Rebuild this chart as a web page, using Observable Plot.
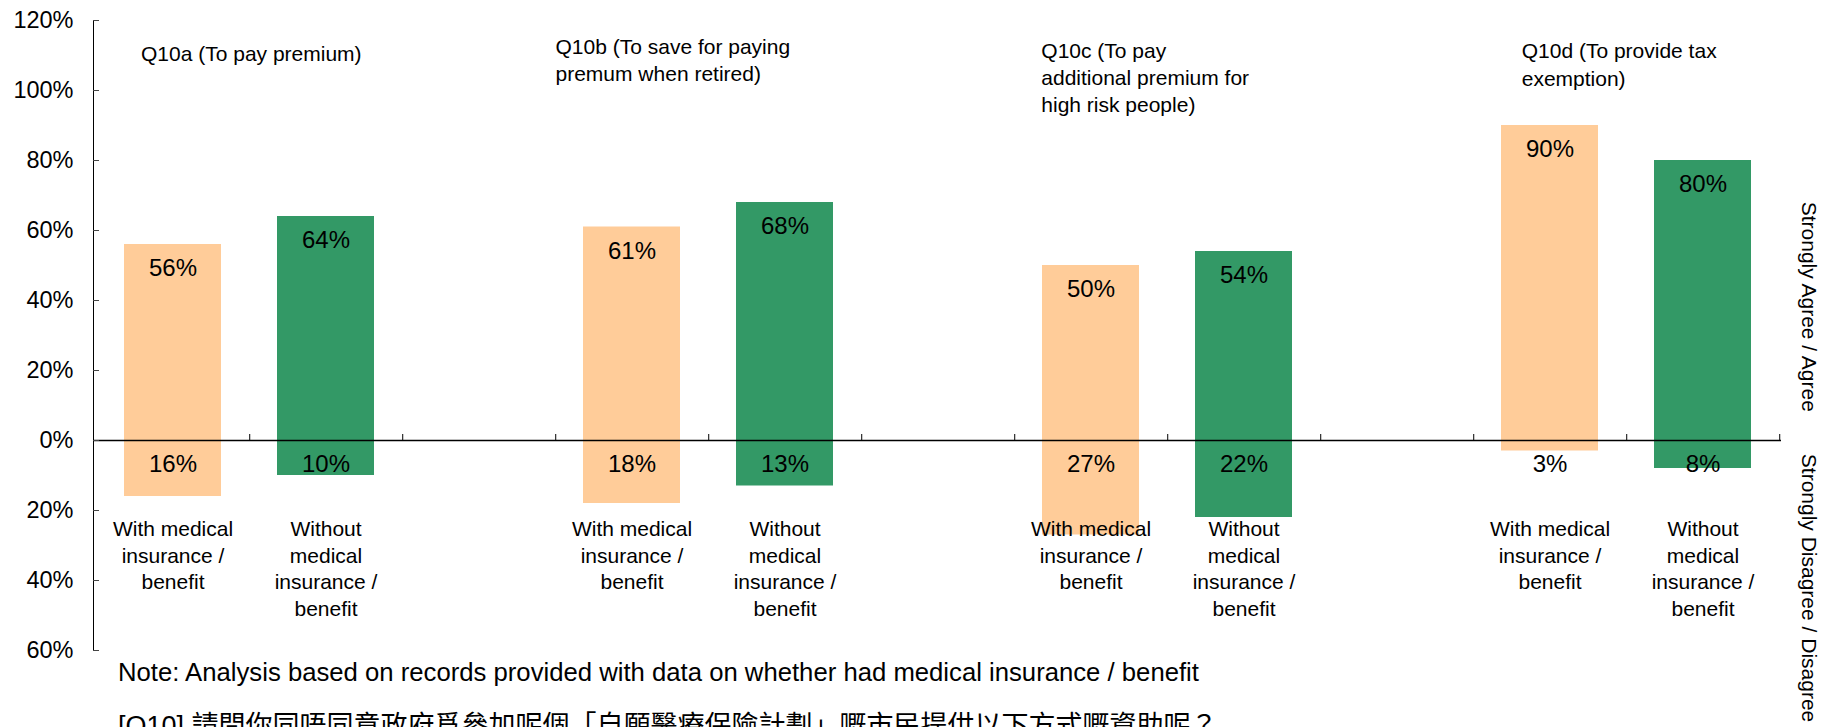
<!DOCTYPE html>
<html>
<head>
<meta charset="utf-8">
<script src="https://cdn.jsdelivr.net/npm/d3@7"></script>
<script src="https://cdn.jsdelivr.net/npm/@observablehq/plot@0.6"></script>
<style>
  html, body { margin: 0; padding: 0; background: #fff; overflow: hidden; }
  #wrap { position: relative; width: 1831px; height: 727px; }
  .note { position: absolute; left: 118px; white-space: nowrap; color: #000; line-height: 1;
          font-family: "Liberation Sans", Arial, "Noto Sans CJK TC", sans-serif; }
</style>
</head>
<body>
<div id="wrap"></div>
<script>
// ---------- data ----------
const questions = ["Q10a", "Q10b", "Q10c", "Q10d"];
const questionTitles = [
  "Q10a (To pay premium)",
  "Q10b (To save for paying\npremum when retired)",
  "Q10c (To pay\nadditional premium for\nhigh risk people)",
  "Q10d (To provide tax\nexemption)"
];
const groups = ["With medical insurance / benefit", "Without medical insurance / benefit"];
const groupTickLabels = ["With medical\ninsurance /\nbenefit", "Without\nmedical\ninsurance /\nbenefit"];
const agreeWith = [56, 61, 50, 90];
const agreeWithout = [64, 68, 54, 80];
const disagreeWith = [16, 18, 27, 3];
const disagreeWithout = [10, 13, 22, 8];
const yTicks = [-60, -40, -20, 0, 20, 40, 60, 80, 100, 120];
const sideLabels = ["Strongly Agree / Agree", "Strongly Disagree / Disagree"];
const noteText = "Note: Analysis based on records provided with data on whether had medical insurance / benefit";
const questionText = "[Q10] 請問你同唔同意政府爲參加呢個「自願醫療保險計劃」嘅市民提供以下方式嘅資助呢？";
const colors = ["#FFCC99", "#339966"];

// ---------- layout ----------
const W = 1831, H = 727, mL = 93, mR = 50, mT = 20, mB = 77;
const step = (W - mL - mR) / 11;
const titleDx = [-32, -76.5, -49.7, -28.3];
const titleDy = [21.7, 14.3, 18.3, 18.7];

// ---------- build table ----------
const categories = [];
questions.forEach((q, qi) => {
  categories.push(q + "|with", q + "|without");
  if (qi < questions.length - 1) categories.push(q + "|gap");
});
const rows = [];
questions.forEach((q, qi) => {
  rows.push({cat: q + "|with", group: groups[0], agree: agreeWith[qi], disagree: disagreeWith[qi]});
  rows.push({cat: q + "|without", group: groups[1], agree: agreeWithout[qi], disagree: disagreeWithout[qi]});
});
const tickLabel = c => c.endsWith("|with") ? groupTickLabels[0] : c.endsWith("|without") ? groupTickLabels[1] : "";

const chart = Plot.plot({
  width: W, height: H,
  marginLeft: mL, marginRight: mR, marginTop: mT, marginBottom: mB,
  style: {fontFamily: "'Liberation Sans', Arial, sans-serif", fontSize: "21px", color: "#000", background: "#fff"},
  x: {type: "band", domain: categories, padding: 0},
  y: {domain: [-60, 120]},
  color: {domain: groups, range: colors},
  marks: [
    Plot.barY(rows, {x: "cat", y1: 0, y2: "agree", fill: "group", insetLeft: 28, insetRight: 28}),
    Plot.barY(rows, {x: "cat", y1: 0, y2: d => -d.disagree, fill: "group", insetLeft: 28, insetRight: 28}),
    Plot.frame({anchor: "left", stroke: "#000"}),
    Plot.ruleY([0], {stroke: "#000", strokeWidth: 1.3}),
    Plot.ruleX(categories, {x: d => d, y1: 0, y2: 0, insetBottom: 6, dx: step / 2, stroke: "#000"}),
    Plot.axisY({ticks: yTicks, tickFormat: d => Math.abs(d) + "%", tickSize: -6, tickPadding: 26, fontSize: 23.5, stroke: "#444", label: null}),
    Plot.axisX({anchor: "bottom", tickSize: 0, tickPadding: 0, dy: -133.5, tickFormat: tickLabel, fontSize: 21, lineHeight: 1.27, label: null}),
    Plot.text(rows, {x: "cat", y: "agree", text: d => d.agree + "%", dy: 24, fontSize: 24}),
    Plot.text(rows, {x: "cat", y: 0, text: d => d.disagree + "%", dy: 23.5, fontSize: 24}),
    ...questionTitles.map((t, i) => Plot.text([t], {
      x: () => questions[i] + "|with", frameAnchor: "top", textAnchor: "start", lineAnchor: "top",
      dx: titleDx[i], dy: titleDy[i], fontSize: 21, lineHeight: 1.29
    })),
    Plot.text([sideLabels[0]], {frameAnchor: "right", rotate: 90, dx: 27, dy: -28.7, textAnchor: "middle", fontSize: 21}),
    Plot.text([sideLabels[1]], {frameAnchor: "right", rotate: 90, dx: 27, dy: 118.3, textAnchor: "start", fontSize: 21})
  ]
});
const wrap = document.getElementById("wrap");
wrap.appendChild(chart);

const n1 = document.createElement("div");
n1.className = "note";
n1.style.top = "660px";
n1.style.fontSize = "25.7px";
n1.textContent = noteText;
wrap.appendChild(n1);

const n2 = document.createElement("div");
n2.className = "note";
n2.style.top = "713px";
n2.style.fontSize = "27px";
n2.textContent = questionText;
wrap.appendChild(n2);
</script>
</body>
</html>
